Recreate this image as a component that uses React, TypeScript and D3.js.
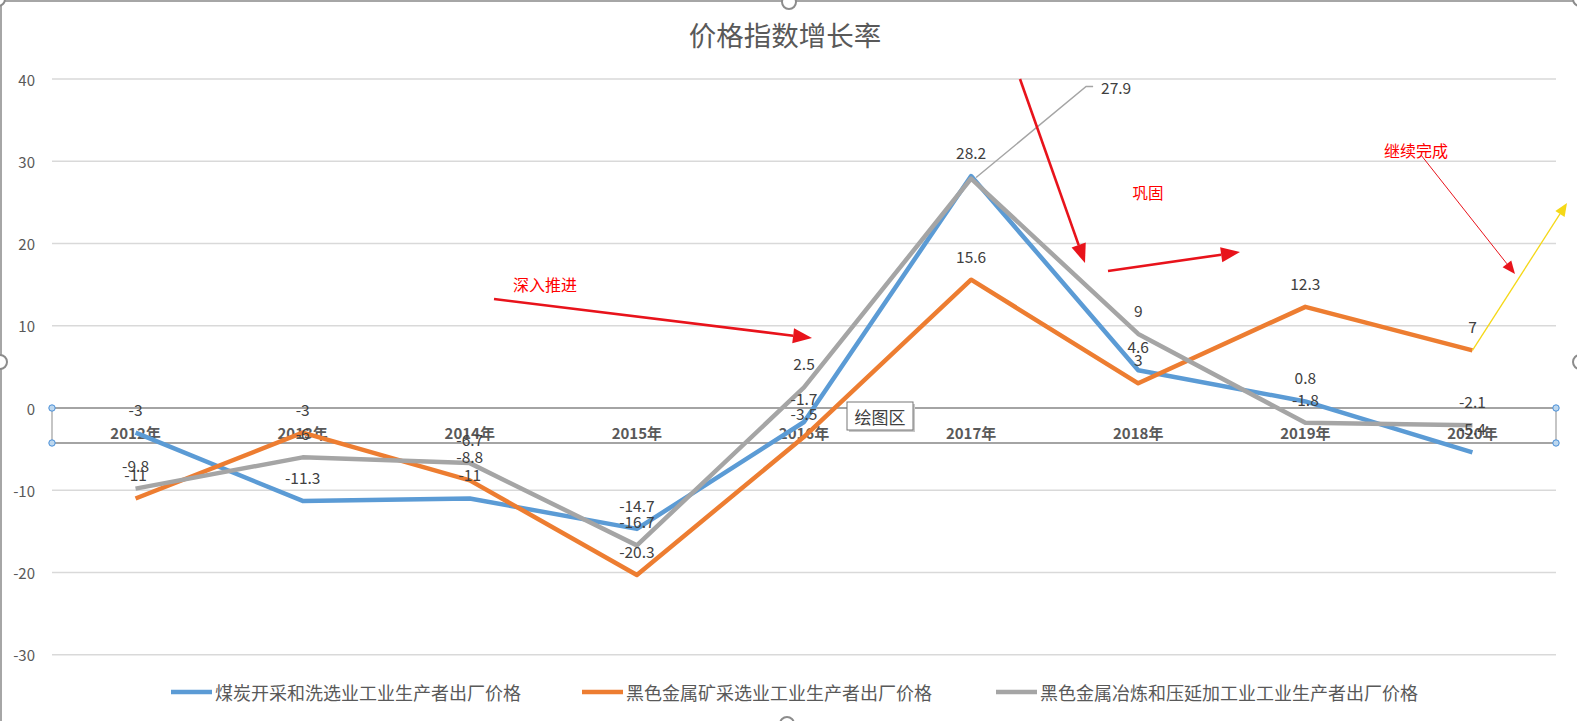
import React from 'react';
import * as d3 from 'd3';

const categories = ['2012年', '2013年', '2014年', '2015年', '2016年', '2017年', '2018年', '2019年', '2020年'];
const coalMining = [-3, -11.3, -11, -14.7, -1.7, 28.2, 4.6, 0.8, -5.4];
const ferrousMining = [-11, -3, -8.8, -20.3, -3.5, 15.6, 3, 12.3, 7];
const ferrousSmelting = [-9.8, -6, -6.7, -16.7, 2.5, 27.9, 9, -1.8, -2.1];
const seriesNames = [
  '煤炭开采和洗选业工业生产者出厂价格',
  '黑色金属矿采选业工业生产者出厂价格',
  '黑色金属冶炼和压延加工业工业生产者出厂价格',
];
const yTicks = [-30, -20, -10, 0, 10, 20, 30, 40];
const title = '价格指数增长率';

const W = 1577;
const H = 721;
const FONT = '"Noto Sans CJK SC", "Noto Sans", sans-serif';
const colors = ['#5b9bd5', '#ed7d31', '#a5a5a5'];

const plotLeft = 52;
const plotRight = 1556;
const yTop = 79;
const yBottom = 654.75;

function arrowHead(x1: number, y1: number, x2: number, y2: number, len: number, wid: number) {
  const dx = x2 - x1, dy = y2 - y1;
  const L = Math.hypot(dx, dy);
  const ux = dx / L, uy = dy / L;
  const bx = x2 - ux * len, by = y2 - uy * len;
  const px = -uy * wid / 2, py = ux * wid / 2;
  return { bx, by, pts: `${x2},${y2} ${bx + px},${by + py} ${bx - px},${by - py}` };
}

function Arrow({ x1, y1, x2, y2, color, sw, len, wid }: any) {
  const h = arrowHead(x1, y1, x2, y2, len, wid);
  return (
    <g>
      <line x1={x1} y1={y1} x2={h.bx} y2={h.by} stroke={color} strokeWidth={sw} />
      <polygon points={h.pts} fill={color} />
    </g>
  );
}

export default function App() {
  const x = d3.scaleBand<string>().domain(categories).range([plotLeft, plotRight]);
  const cx = (c: string) => (x(c) as number) + x.bandwidth() / 2;
  const y = d3.scaleLinear().domain([-30, 40]).range([yBottom, yTop]);

  const series = [coalMining, ferrousMining, ferrousSmelting];
  const line = d3
    .line<number>()
    .x((_, i) => cx(categories[i]))
    .y((d) => y(d));

  const y0 = y(0);
  const axisBottom = y0 + 35;
  const handleFill = '#bdd7ee';
  const handleStroke = '#4a90d9';

  const movedIdx = 5;
  const movedPt = { x: cx(categories[movedIdx]), y: y(ferrousSmelting[movedIdx]) };

  return (
    <svg
      width={W}
      height={H}
      style={{ position: 'absolute', left: 0, top: 0, display: 'block', background: '#fff' }}
      fontFamily={FONT}
    >
      <rect x={0} y={0} width={W} height={H} fill="#fff" />
      <rect x={1} y={1} width={W + 2} height={H + 2} fill="none" stroke="#a6a6a6" strokeWidth={2} />

      <text x={785} y={34} textAnchor="middle" dominantBaseline="central" fontSize={27.5} fill="#595959">
        {title}
      </text>

      {yTicks.filter((t) => t !== 0).map((t) => (
        <line key={t} x1={plotLeft} x2={plotRight} y1={y(t)} y2={y(t)} stroke="#d9d9d9" strokeWidth={1.3} />
      ))}
      {yTicks.map((t) => (
        <text key={'l' + t} x={35} y={y(t)} textAnchor="end" dominantBaseline="central" fontSize={15} fill="#595959">
          {t}
        </text>
      ))}

      <line x1={plotLeft} x2={plotRight} y1={y0} y2={y0} stroke="#868686" strokeWidth={1.3} />
      <line x1={plotLeft} x2={plotRight} y1={axisBottom} y2={axisBottom} stroke="#868686" strokeWidth={1.3} />
      <line x1={plotLeft} x2={plotLeft} y1={y0} y2={axisBottom} stroke="#a6a6a6" strokeWidth={1.3} />
      <line x1={plotRight} x2={plotRight} y1={y0} y2={axisBottom} stroke="#a6a6a6" strokeWidth={1.3} />
      {categories.map((c) => (
        <text key={c} x={cx(c)} y={y0 + 24} textAnchor="middle" dominantBaseline="central" fontSize={15} fontWeight="bold" fill="#595959">
          {c}
        </text>
      ))}

      {series.map((s, si) => (
        <path key={si} d={line(s) as string} fill="none" stroke={colors[si]} strokeWidth={4.5} strokeLinejoin="round" />
      ))}

      {[
        [plotLeft, y0],
        [plotLeft, axisBottom],
        [plotRight, y0],
        [plotRight, axisBottom],
      ].map(([hx, hy], i) => (
        <circle key={'h' + i} cx={hx} cy={hy} r={3.2} fill={handleFill} stroke={handleStroke} strokeWidth={1} />
      ))}

      {series.map((s, si) =>
        s.map((v, i) => {
          if (si === 2 && i === movedIdx) return null;
          return (
            <text key={si + '-' + i} x={cx(categories[i])} y={y(v) - 24} textAnchor="middle" dominantBaseline="central" fontSize={15.5} fill="#404040">
              {v}
            </text>
          );
        })
      )}
      <polyline
        points={`${movedPt.x + 5},${movedPt.y - 1} ${movedPt.x + 115},${movedPt.y - 92} ${movedPt.x + 122},${movedPt.y - 92}`}
        fill="none"
        stroke="#a5a5a5"
        strokeWidth={1.5}
      />
      <text x={movedPt.x + 145} y={movedPt.y - 92} textAnchor="middle" dominantBaseline="central" fontSize={15.5} fill="#404040">
        {ferrousSmelting[movedIdx]}
      </text>

      <rect x={849} y={404} width={66} height={28} fill="#c8c8c8" />
      <rect x={847} y={402} width={66} height={28} fill="#fff" stroke="#767676" strokeWidth={1} />
      <text x={880} y={416.5} textAnchor="middle" dominantBaseline="central" fontSize={17} fill="#404040">
        绘图区
      </text>

      <text x={545} y={284} textAnchor="middle" dominantBaseline="central" fontSize={16} fill="#ff0000">深入推进</text>
      <Arrow x1={494} y1={299} x2={812} y2={338} color="#e8131b" sw={2.6} len={19} wid={15} />
      <Arrow x1={1020} y1={79} x2={1085} y2={263} color="#e8131b" sw={2.6} len={19} wid={15} />
      <text x={1148} y={192} textAnchor="middle" dominantBaseline="central" fontSize={15.5} fill="#ff0000">巩固</text>
      <Arrow x1={1108} y1={271} x2={1240} y2={252} color="#e8131b" sw={2.6} len={19} wid={15} />
      <text x={1416} y={150} textAnchor="middle" dominantBaseline="central" fontSize={16} fill="#ff0000">继续完成</text>
      <Arrow x1={1421} y1={155} x2={1515} y2={274} color="#e8131b" sw={1} len={13} wid={11} />
      <Arrow
        x1={cx(categories[8])}
        y1={y(ferrousMining[8])}
        x2={1567}
        y2={203}
        color="#f5d817"
        sw={1.3}
        len={13}
        wid={11}
      />

      {seriesNames.map((n, i) => {
        const lx = [171, 582, 996][i];
        return (
          <g key={n}>
            <line x1={lx} x2={lx + 41} y1={692} y2={692} stroke={colors[i]} strokeWidth={4.5} />
            <text x={lx + 44} y={692} dominantBaseline="central" fontSize={18} fill="#595959">
              {n}
            </text>
          </g>
        );
      })}

      {[
        [-2, -1],
        [789, 2],
        [1580, -1],
        [0, 362],
        [1580, 362],
        [787, 724],
      ].map(([hx, hy], i) => (
        <circle key={'c' + i} cx={hx} cy={hy} r={7} fill="#fff" stroke="#8c8c8c" strokeWidth={2} />
      ))}
    </svg>
  );
}
